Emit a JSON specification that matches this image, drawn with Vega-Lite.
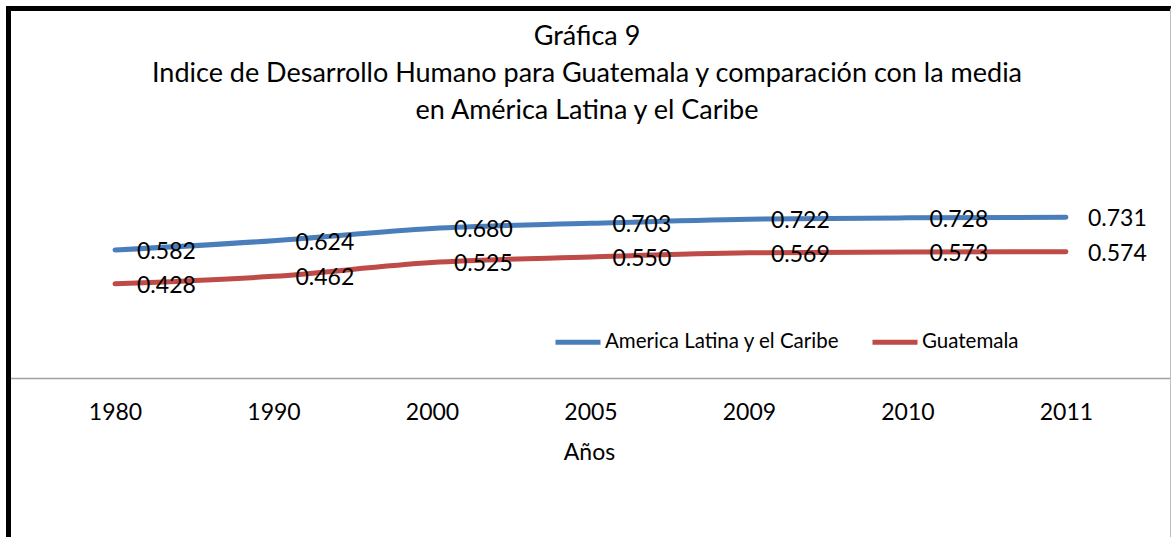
{
  "$schema": "https://vega.github.io/schema/vega-lite/v6.json",
  "autosize": "none",
  "width": 1162,
  "height": 529,
  "padding": {"left": 8, "top": 8, "right": 1, "bottom": 0},
  "background": "white",
  "config": {"view": {"stroke": null}, "font": "Lato"},
  "title": {
    "text": ["Gráfica 9", "Indice de Desarrollo Humano  para Guatemala y comparación con la media", "en América Latina y el Caribe"],
    "orient": "top",
    "anchor": "middle",
    "baseline": "alphabetic",
    "font": "Lato",
    "fontSize": 27,
    "fontWeight": "normal",
    "color": "black",
    "lineHeight": 37,
    "offset": -138,
    "dx": -2
  },
  "data": {
    "values": [
      {"year": "1980", "serie": "America Latina y el Caribe", "value": 0.582},
      {"year": "1990", "serie": "America Latina y el Caribe", "value": 0.624},
      {"year": "2000", "serie": "America Latina y el Caribe", "value": 0.680},
      {"year": "2005", "serie": "America Latina y el Caribe", "value": 0.703},
      {"year": "2009", "serie": "America Latina y el Caribe", "value": 0.722},
      {"year": "2010", "serie": "America Latina y el Caribe", "value": 0.728},
      {"year": "2011", "serie": "America Latina y el Caribe", "value": 0.731},
      {"year": "1980", "serie": "Guatemala", "value": 0.428},
      {"year": "1990", "serie": "Guatemala", "value": 0.462},
      {"year": "2000", "serie": "Guatemala", "value": 0.525},
      {"year": "2005", "serie": "Guatemala", "value": 0.550},
      {"year": "2009", "serie": "Guatemala", "value": 0.569},
      {"year": "2010", "serie": "Guatemala", "value": 0.573},
      {"year": "2011", "serie": "Guatemala", "value": 0.574}
    ]
  },
  "layer": [
    {
      "mark": {"type": "line", "interpolate": "monotone", "strokeWidth": 5, "strokeCap": "round"},
      "encoding": {
        "x": {
          "field": "year", "type": "nominal", "sort": null,
          "scale": {"type": "point", "padding": 0.666, "align": 0.507},
          "axis": {
            "orient": "bottom", "offset": -159,
            "domainColor": "#a0a0a0", "domainWidth": 1.5,
            "ticks": false, "labelAngle": 0,
            "labelFont": "Lato", "labelFontSize": 23, "labelColor": "black",
            "labelPadding": 23,
            "title": "Años", "titleFont": "Lato", "titleFontSize": 23, "titleFontWeight": "normal", "titleColor": "black",
            "titlePadding": 17
          }
        },
        "y": {
          "field": "value", "type": "quantitative",
          "scale": {"domain": [-0.72273, 1.68182], "nice": false, "zero": false},
          "axis": {
            "orient": "left", "domainColor": "black", "domainWidth": 5, "domainCap": "square",
            "ticks": false, "labels": false, "grid": false, "title": null
          }
        },
        "color": {
          "field": "serie", "type": "nominal",
          "scale": {"domain": ["America Latina y el Caribe", "Guatemala"], "range": ["#4A7EBB", "#BE4B48"]},
          "legend": {
            "orient": "none", "legendX": 545, "legendY": 309,
            "direction": "horizontal", "title": null,
            "symbolType": "stroke", "symbolStrokeWidth": 5, "symbolSize": 2025,
            "labelFont": "Lato", "labelFontSize": 20.5, "labelColor": "black", "labelLimit": 0,
            "labelOffset": 2, "columnPadding": 22
          }
        }
      }
    },
    {
      "mark": {"type": "text", "align": "left", "baseline": "middle", "dx": 22, "dy": 2, "font": "Lato", "fontSize": 23, "color": "black"},
      "encoding": {
        "x": {
          "field": "year", "type": "nominal", "sort": null,
          "axis": {"orient": "top", "domainColor": "black", "domainWidth": 5, "domainCap": "square", "ticks": false, "labels": false, "title": null}
        },
        "y": {
          "field": "value", "type": "quantitative",
          "axis": {"orient": "right", "domainColor": "#bdbdbd", "domainWidth": 1, "ticks": false, "labels": false, "grid": false, "title": null}
        },
        "text": {"field": "value", "type": "quantitative", "format": ".3f"}
      }
    }
  ],
  "resolve": {"axis": {"x": "independent", "y": "independent"}}
}
